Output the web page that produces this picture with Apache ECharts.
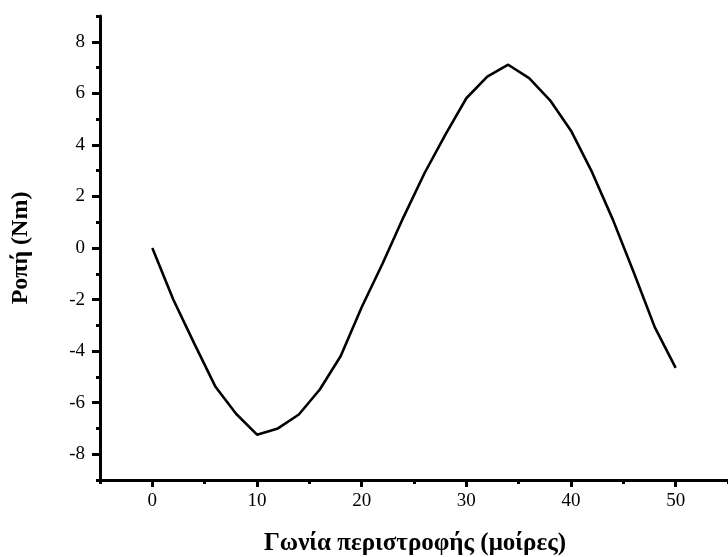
<!DOCTYPE html>
<html>
<head>
<meta charset="utf-8">
<script src="https://cdn.jsdelivr.net/npm/echarts@6/dist/echarts.min.js"></script>
<style>html,body{margin:0;padding:0;background:#fff}#c{width:728px;height:557px}</style>
</head>
<body>
<div id="c"></div>
<script>
const angles = [0,2,4,6,8,10,12,14,16,18,20,22,24,26,28,30,32,34,36,38,40,42,44,46,48,50];
const torque = [0,-2.0,-3.7,-5.36,-6.43,-7.24,-7.0,-6.46,-5.49,-4.19,-2.3,-0.6,1.2,2.9,4.4,5.81,6.65,7.11,6.59,5.73,4.55,2.95,1.1,-0.95,-3.07,-4.65];
const xMajorTicks = [0,10,20,30,40,50];
const xMinorTicks = [-5,5,15,25,35,45,55];
const yMajorTicks = [-8,-6,-4,-2,0,2,4,6,8];
const yMinorTicks = [-9,-7,-5,-3,-1,1,3,5,7,9];
const xTitle = 'Γωνία περιστροφής (μοίρες)';
const yTitle = 'Ροπή (Nm)';

const font = '"Liberation Serif", "Times New Roman", serif';
const chart = echarts.init(document.getElementById('c'), null, {renderer: 'canvas'});
const axisLineStyle = {color: '#000', width: 3};
chart.setOption({
  animation: false,
  backgroundColor: '#fff',
  grid: {left: 100, right: -4, top: 16, bottom: 77, containLabel: false},
  graphic: [{
    type: 'text', x: 415, y: 544,
    style: {text: xTitle, fill: '#000', font: 'bold 25px ' + font, textAlign: 'center', textVerticalAlign: 'middle'},
    silent: true
  }],
  xAxis: [
    {
      type: 'value', min: -5, max: 55, position: 'bottom',
      axisLine: {show: true, onZero: false, lineStyle: axisLineStyle},
      axisTick: {show: true, customValues: xMajorTicks, length: 7, lineStyle: {color: '#000', width: 3}},
      axisLabel: {customValues: xMajorTicks, color: '#000', fontFamily: font, fontSize: 19, margin: 12},
      splitLine: {show: false}
    },
    {
      type: 'value', min: -5, max: 55, position: 'bottom', gridIndex: 0,
      axisLine: {show: false, onZero: false},
      axisTick: {show: true, customValues: xMinorTicks, length: 4, lineStyle: {color: '#000', width: 3}},
      axisLabel: {show: false},
      splitLine: {show: false}
    }
  ],
  yAxis: [
    {
      type: 'value', min: -9, max: 9, position: 'left',
      axisLine: {show: true, onZero: false, lineStyle: axisLineStyle},
      axisTick: {show: true, customValues: yMajorTicks, length: 8, lineStyle: {color: '#000', width: 3}},
      axisLabel: {customValues: yMajorTicks, color: '#000', fontFamily: font, fontSize: 19, margin: 15},
      splitLine: {show: false},
      name: yTitle, nameLocation: 'middle', nameGap: 67, nameRotate: 90,
      nameTextStyle: {color: '#000', fontFamily: font, fontSize: 24, fontWeight: 'bold'}
    },
    {
      type: 'value', min: -9, max: 9, position: 'left', gridIndex: 0,
      axisLine: {show: false, onZero: false},
      axisTick: {show: true, customValues: yMinorTicks, length: 4, lineStyle: {color: '#000', width: 3}},
      axisLabel: {show: false},
      splitLine: {show: false}
    }
  ],
  series: [{
    type: 'line',
    xAxisIndex: 0, yAxisIndex: 0,
    data: angles.map((a, i) => [a, torque[i]]),
    showSymbol: false, symbol: 'none',
    lineStyle: {color: '#000', width: 2.6},
    smooth: false
  }]
});
</script>
</body>
</html>
